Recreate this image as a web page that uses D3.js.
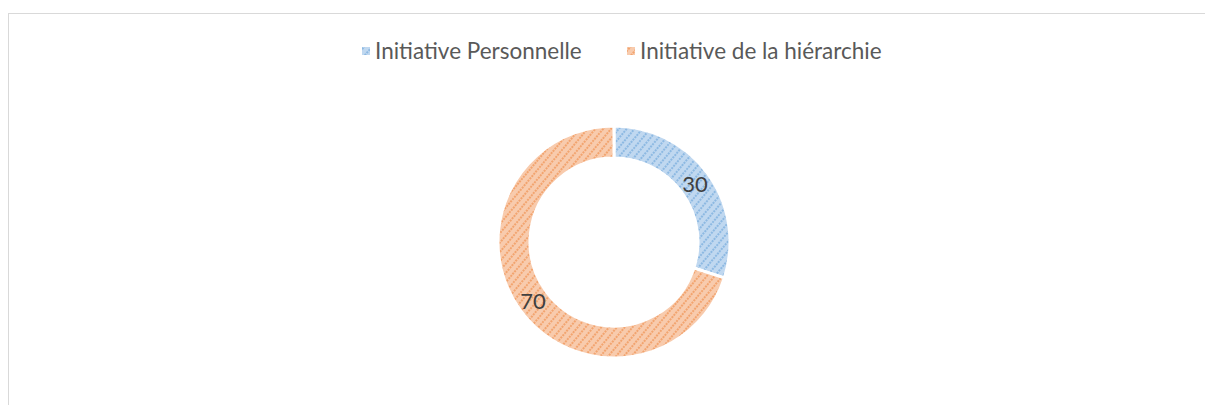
<!DOCTYPE html>
<html>
<head>
<meta charset="utf-8">
<script src="https://cdn.jsdelivr.net/npm/d3@7"></script>
<style>
  body { margin: 0; background: #fff; }
  svg { display: block; font-family: Lato, "Open Sans", sans-serif; }
</style>
</head>
<body>
<div id="chart"></div>
<script>
const categories = ["Initiative Personnelle", "Initiative de la hiérarchie"];
const values = [30, 70];
const lightColors = ["#c0d8f0", "#f8cbad"];
const darkColors = ["#5b9bd5", "#ed7d31"];

const width = 1205, height = 405;
const cx = 614, cy = 242, outerR = 116, innerR = 84;

const svg = d3.select("#chart").append("svg")
  .attr("width", width)
  .attr("height", height);

// chart frame
svg.append("rect")
  .attr("x", 8.5).attr("y", 13.5)
  .attr("width", width + 20).attr("height", height + 20)
  .attr("fill", "#fff")
  .attr("stroke", "#d9d9d9")
  .attr("stroke-width", 1);

// hatch patterns
const defs = svg.append("defs");
categories.forEach((c, i) => {
  const p = defs.append("pattern")
    .attr("id", "hatch" + i)
    .attr("patternUnits", "userSpaceOnUse")
    .attr("width", 6).attr("height", 6)
    .attr("patternTransform", "rotate(-50)");
  p.append("rect").attr("width", 6).attr("height", 6).attr("fill", lightColors[i]);
  p.append("line")
    .attr("x1", 0).attr("y1", 3).attr("x2", 6).attr("y2", 3)
    .attr("stroke", darkColors[i])
    .attr("stroke-width", 1.2)
    .attr("stroke-dasharray", "2 1");
});

const pie = d3.pie().sort(null).value(d => d)(values);
const arc = d3.arc().innerRadius(innerR).outerRadius(outerR);

const g = svg.append("g").attr("transform", `translate(${cx},${cy})`);

g.selectAll("path")
  .data(pie)
  .join("path")
  .attr("d", arc)
  .attr("fill", (d, i) => `url(#hatch${i})`)
  .attr("stroke", "#fff")
  .attr("stroke-width", 3);

g.selectAll("text.lbl")
  .data(pie)
  .join("text")
  .attr("class", "lbl")
  .attr("x", d => arc.centroid(d)[0])
  .attr("y", d => arc.centroid(d)[1])
  .attr("text-anchor", "middle")
  .attr("dominant-baseline", "central")
  .attr("font-size", 22)
  .attr("fill", "#404040")
  .text(d => d.data);

// legend
const legendX = [362, 627];
const legend = svg.selectAll(".legend-group")
  .data(categories)
  .join("g")
  .attr("class", "legend-group");

legend.append("rect")
  .attr("x", (d, i) => legendX[i])
  .attr("y", 47)
  .attr("width", 8).attr("height", 8)
  .attr("fill", (d, i) => `url(#hatch${i})`);

legend.append("text")
  .attr("x", (d, i) => legendX[i] + 13)
  .attr("y", 59)
  .attr("font-size", 22.5)
  .attr("fill", "#595959")
  .text(d => d);
</script>
</body>
</html>
